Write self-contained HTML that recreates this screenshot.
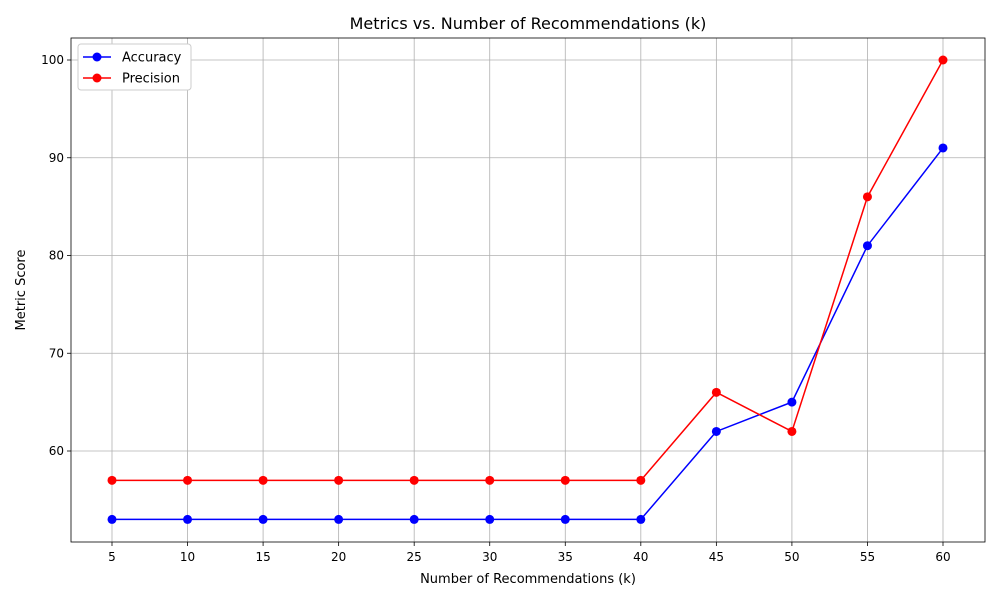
<!DOCTYPE html>
<html><head><meta charset="utf-8"><style>
body{margin:0;background:#fff;font-family:"Liberation Sans",sans-serif;}
svg text{font-family:"DejaVu Sans","Liberation Sans",sans-serif;}
</style></head><body>
<svg id="chart" width="1000" height="600" xmlns="http://www.w3.org/2000/svg"></svg>
<script>
const categories=[5,10,15,20,25,30,35,40,45,50,55,60];
const accuracy=[53,53,53,53,53,53,53,53,62,65,81,91];
const precision=[57,57,57,57,57,57,57,57,66,62,86,100];
const yTicks=[60,70,80,90,100];
const seriesNames=["Accuracy","Precision"];

const L=71,R=985,T=38,B=542;
const x=v=>112+(v-5)*(943-112)/55;
const y=v=>451-(v-60)*9.775;
const svg=document.getElementById('chart');
const NS='http://www.w3.org/2000/svg';
function el(tag,attrs,parent){const e=document.createElementNS(NS,tag);for(const k in attrs)e.setAttribute(k,attrs[k]);(parent||svg).appendChild(e);return e;}

const grid=el('g',{});


categories.forEach(c=>{
  el('line',{x1:x(c),x2:x(c),y1:T,y2:B,stroke:'#b0b0b0','stroke-width':0.8},grid);
  el('line',{x1:x(c),x2:x(c),y1:B,y2:B+4,stroke:'#000','stroke-width':0.8});
  const t=el('text',{x:x(c),y:B+19,'text-anchor':'middle','font-size':12});
  t.textContent=c;
  
  
});
yTicks.forEach(v=>{
  el('line',{x1:L,x2:R,y1:y(v),y2:y(v),stroke:'#b0b0b0','stroke-width':0.8},grid);
  el('line',{x1:L-4,x2:L,y1:y(v),y2:y(v),stroke:'#000','stroke-width':0.8});
  const t=el('text',{x:L-7,y:y(v)+4,'text-anchor':'end','font-size':12});
  t.textContent=v;
  
  
});
const frame=el('rect',{x:L,y:T,width:R-L,height:B-T,fill:'none',stroke:'#000','stroke-width':0.8});



function series(vals,color,name){
  const g=el('g',{});
  
  
  el('polyline',{points:vals.map((v,i)=>x(categories[i])+','+y(v)).join(' '),fill:'none',stroke:color,'stroke-width':1.5},g);
  vals.forEach((v,i)=>{
    const c=el('circle',{cx:x(categories[i]),cy:y(v),r:4.5,fill:color},g);
    
    
  });
}
series(accuracy,'#0000ff','accuracy');
series(precision,'#ff0000','precision');

const title=el('text',{x:528,y:29,'text-anchor':'middle','font-size':16});
title.textContent='Metrics vs. Number of Recommendations (k)';


const xt=el('text',{x:528,y:583,'text-anchor':'middle','font-size':13});
xt.textContent='Number of Recommendations (k)';


const yt=el('text',{x:25,y:290,'text-anchor':'middle','font-size':13,transform:'rotate(-90 25 290)'});
yt.textContent='Metric Score';



const lg=el('g',{});


el('rect',{x:78,y:44,width:113,height:46,rx:3,fill:'#fff',stroke:'#ccc','stroke-width':1},lg);
['#0000ff','#ff0000'].forEach((c,i)=>{
  const yy=57+i*21;
  const e=el('g',{},lg);
  
  
  el('line',{x1:83,x2:111,y1:yy,y2:yy,stroke:c,'stroke-width':1.5},e);
  el('circle',{cx:97,cy:yy,r:4.5,fill:c},e);
  const t=el('text',{x:122,y:yy+4.5,'font-size':13},e);
  t.textContent=seriesNames[i];
});
</script>
</body></html>
